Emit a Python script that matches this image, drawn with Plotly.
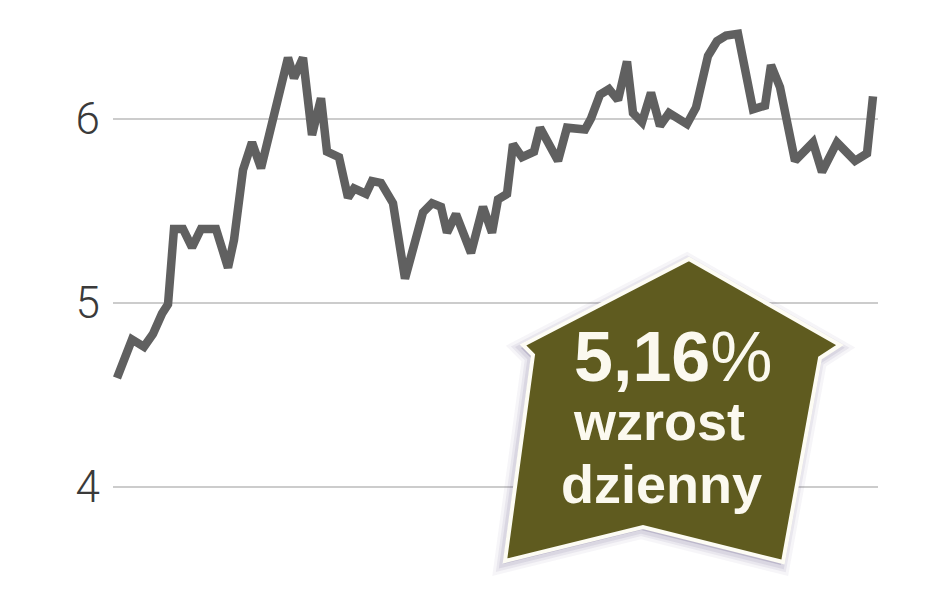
import plotly.graph_objects as go

# sesje (kolejne notowania) i kurs w zł
sesja = [0, 5, 9, 12, 15, 17, 19, 22, 25, 28, 33, 37, 39, 42, 45, 48, 57, 59, 62, 65,
         68, 70, 74, 77, 79, 83, 85, 88, 92, 96, 102, 105, 108, 110, 113, 118, 122, 125,
         127, 130, 132, 135, 139, 141, 147, 150, 156, 158, 161, 164, 167, 170, 172, 175,
         178, 181, 184, 190, 193, 197, 200, 203, 207, 212, 216, 218, 221, 226, 232, 235,
         240, 246, 250, 252]
kurs = [4.59, 4.80, 4.76, 4.83, 4.94, 4.99, 5.40, 5.40, 5.30, 5.40, 5.40, 5.19, 5.34,
        5.72, 5.87, 5.73, 6.33, 6.22, 6.33, 5.91, 6.11, 5.82, 5.79, 5.57, 5.62, 5.59,
        5.66, 5.65, 5.54, 5.13, 5.49, 5.54, 5.52, 5.38, 5.48, 5.27, 5.52, 5.38, 5.56,
        5.59, 5.86, 5.79, 5.82, 5.95, 5.77, 5.95, 5.94, 6.00, 6.13, 6.16, 6.10, 6.31,
        6.03, 5.98, 6.14, 5.96, 6.03, 5.97, 6.06, 6.34, 6.42, 6.45, 6.46, 6.05, 6.07,
        6.29, 6.17, 5.77, 5.87, 5.71, 5.87, 5.77, 5.81, 6.12]
y_ticks = [4, 5, 6]
y_labels = ["4", "5", "6"]
zmiana = "5,16"

# strona ma 8 px marginesu, więc wykres jest o tyle mniejszy i przesunięty
OFF = 8
W, H = 948 - OFF, 593 - OFF
L, R = 113 - OFF, 70
PPU = 184.1  # pikseli na 1 zł


def px(x, y):
    # piksele obrazu -> współrzędne "paper"
    return (x - OFF - L) / (W - L - R), (H - (y - OFF)) / H


def path(points):
    pts = [px(x, y) for x, y in points]
    return "M " + " L ".join(f"{a:.4f},{b:.4f}" for a, b in pts) + " Z"


arrow = [(689, 259), (840, 345), (820, 358), (783, 562), (643, 527),
         (505, 561), (533, 355), (523, 345)]
shadow = [(x - 2, y + 3) for x, y in arrow]

fig = go.Figure()
fig.add_trace(go.Scatter(
    x=sesja, y=kurs, mode="lines",
    line=dict(color="#606060", width=8.5),
    hoverinfo="skip"
))

shapes = []
for w, a in [(18, 0.05), (12, 0.07), (7, 0.09)]:
    shapes.append(dict(type="path", xref="paper", yref="paper", path=path(shadow),
                       fillcolor=f"rgba(70,60,110,{a})",
                       line=dict(color=f"rgba(70,60,110,{a})", width=w)))
shapes.append(dict(type="path", xref="paper", yref="paper", path=path(arrow),
                   fillcolor="#5f5b1f", line=dict(color="#fdfcf4", width=4)))

txt = dict(color="#fbf9ef", family="Liberation Sans, Arial, sans-serif")
annotations = []
for t, (x, y), size in [
    (f"<b>{zmiana}</b>%", (673, 357), 70),
    ("<b>wzrost</b>", (659, 421), 54),
    ("<b>dzienny</b>", (661, 484), 54),
]:
    ax, ay = px(x, y)
    annotations.append(dict(text=t, x=ax, y=ay, xref="paper", yref="paper",
                            xanchor="center", yanchor="middle", showarrow=False,
                            font=dict(size=size, **txt)))

top_val = 6 + (118.5 - OFF) / PPU
fig.update_layout(
    width=W, height=H,
    margin=dict(l=L, r=R, t=0, b=0),
    paper_bgcolor="white", plot_bgcolor="white",
    showlegend=False,
    shapes=shapes,
    annotations=annotations,
    xaxis=dict(range=[-4 / 3, 765 / 3 - 4 / 3], visible=False, fixedrange=True),
    yaxis=dict(
        range=[top_val - H / PPU, top_val],
        tickvals=y_ticks, ticktext=y_labels,
        showgrid=True, gridcolor="#cccccc", gridwidth=1.5,
        zeroline=False, showline=False, ticks="",
        ticklabelstandoff=12,
        tickfont=dict(family="Roboto", size=44, color="#3a3a3a", weight=300),
        fixedrange=True,
    ),
)

fig.write_html("out.html")
